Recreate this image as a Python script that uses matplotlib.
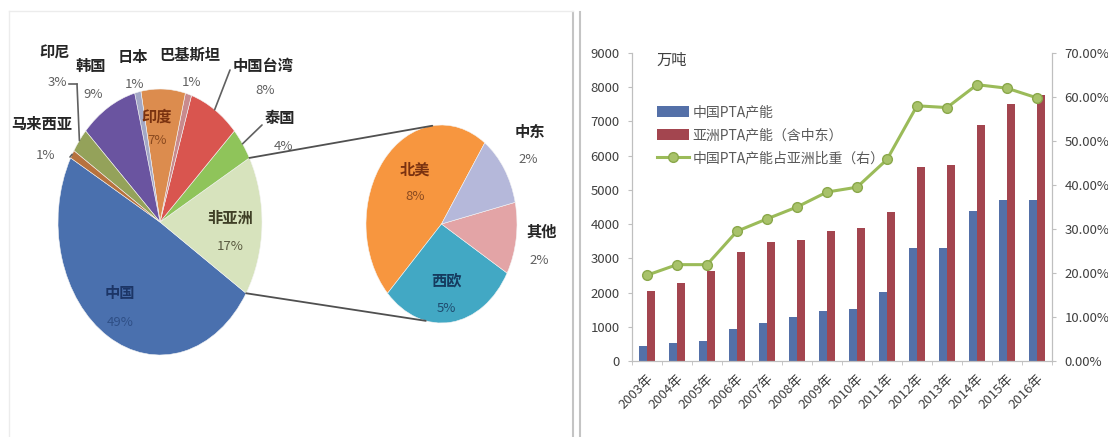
import numpy as np
import matplotlib.pyplot as plt
from matplotlib.patches import ConnectionPatch, Patch
from matplotlib.lines import Line2D
from matplotlib.ticker import FuncFormatter, MultipleLocator

plt.rcParams['font.family'] = ['Noto Sans CJK SC', 'DejaVu Sans']

W, H = 1108, 437

# 左图：PTA产能地区分布 (%)
main_names = ['中国', '非亚洲', '泰国', '中国台湾', '巴基斯坦', '印度', '日本', '韩国', '印尼', '马来西亚']
main_pct = [49, 17, 4, 8, 1, 7, 1, 9, 3, 1]
sub_names = ['北美', '西欧', '其他', '中东']
sub_pct = [8, 5, 2, 2]

# 右图：产能 (万吨) 与占比
years = ['2003年', '2004年', '2005年', '2006年', '2007年', '2008年', '2009年',
         '2010年', '2011年', '2012年', '2013年', '2014年', '2015年', '2016年']
china_cap = [430, 530, 590, 940, 1120, 1290, 1470, 1530, 2030, 3290, 3290, 4380, 4700, 4700]
asia_cap = [2060, 2290, 2620, 3180, 3470, 3530, 3800, 3880, 4350, 5680, 5740, 6910, 7500, 7760]
china_share = [0.195, 0.219, 0.219, 0.295, 0.323, 0.35, 0.384, 0.395, 0.458, 0.58, 0.576, 0.628, 0.62, 0.598]

main_colors = ['#4a70ae', '#d7e3bd', '#8fc45a', '#d9554f', '#c98a8d', '#dc8c4e',
               '#a3a8c6', '#6a54a0', '#94a25a', '#b7723e']
sub_colors = ['#f7963f', '#42a8c4', '#e3a4a6', '#b5b8da']


def box(x0, y0, x1, y1):
    return [x0 / W, 1 - y1 / H, (x1 - x0) / W, (y1 - y0) / H]


def fp(x, y):
    return (x / W, 1 - y / H)


def edge(w, frac=0.5):
    a = np.radians(w.theta1 + (w.theta2 - w.theta1) * frac)
    return (np.cos(a), np.sin(a))


fig = plt.figure(figsize=(W / 100, H / 100), dpi=100)

# ---- 主饼图
ax_main = fig.add_axes(box(58, 89, 262, 355))
wedges, _ = ax_main.pie(main_pct, colors=main_colors, startangle=151.2,
                        wedgeprops=dict(edgecolor='#f4f4f4', linewidth=0.4))
ax_main.set_aspect('auto')
ax_main.set_xlim(-1, 1)
ax_main.set_ylim(-1, 1)

# ---- 子饼图 (非亚洲)
ax_sub = fig.add_axes(box(366, 125, 517, 323))
sub_wedges, _ = ax_sub.pie(sub_pct, colors=sub_colors, startangle=55,
                           wedgeprops=dict(edgecolor='#f4f4f4', linewidth=0.4))
ax_sub.set_aspect('auto')
ax_sub.set_xlim(-1, 1)
ax_sub.set_ylim(-1, 1)

# 连接线
w = wedges[1]
for ang_a, ang_b in [(w.theta2, 97), (w.theta1, 258)]:
    ra, rb = np.radians(ang_a), np.radians(ang_b)
    con = ConnectionPatch(xyA=(np.cos(ra), np.sin(ra)), coordsA=ax_main.transData,
                          xyB=(np.cos(rb), np.sin(rb)), coordsB=ax_sub.transData,
                          color='#505050', lw=1.3)
    fig.add_artist(con)

# 标签位置 (像素)
lab_pos = {
    '中国': ((120, 293), (120, 322)), '非亚洲': ((230, 218), (230, 247)),
    '印度': ((157, 117), (157, 141)), '印尼': ((55, 53), (57, 82)),
    '韩国': ((91, 66), (93, 94)), '日本': ((133, 57), (135, 84)),
    '巴基斯坦': ((190, 55), (192, 82)), '中国台湾': ((263, 66), (265, 91)),
    '泰国': ((280, 118), (283, 147)), '马来西亚': ((42, 124), (46, 155)),
    '北美': ((415, 170), (415, 197)), '西欧': ((447, 280), (446, 308)),
    '中东': ((530, 132), (528, 160)), '其他': ((542, 232), (539, 260)),
}
inside_col = {'中国': ('#1c3566', '#2f4f86'), '非亚洲': ('#3f3f26', '#5a5a40'),
              '印度': ('#7a3210', '#8a4a20'), '北美': ('#7a3210', '#8a4a20'),
              '西欧': ('#153a5e', '#1f4a6e')}

for names, pcts in [(main_names, main_pct), (sub_names, sub_pct)]:
    for n, p in zip(names, pcts):
        (nx, ny), (px, py) = lab_pos[n]
        c1, c2 = inside_col.get(n, ('#262626', '#606060'))
        fig.text(*fp(nx, ny), n, ha='center', va='center', fontsize=11,
                 fontweight='bold', color=c1)
        fig.text(*fp(px, py), f'{p}%', ha='center', va='center', fontsize=9.5,
                 color=c2)

# 引线
leaders = [(wedges[3], (230, 70)), (wedges[2], (262, 125)), (wedges[9], (70, 157)),
           (wedges[8], (77, 84))]
for wd, (lx, ly) in leaders:
    fig.add_artist(ConnectionPatch(xyA=edge(wd), coordsA=ax_main.transData,
                                   xyB=(lx, H - ly), coordsB='figure pixels',
                                   color='#606060', lw=1.2))
fig.add_artist(Line2D([69 / W, 77 / W], [1 - 84 / H] * 2, transform=fig.transFigure,
                      color='#606060', lw=1.2))

# 分隔线与边框
for sx in (573, 580):
    fig.add_artist(Line2D([sx / W] * 2, [0, 1 - 12 / H], transform=fig.transFigure,
                          color='#c4c4c4', lw=1.5))
fig.add_artist(Line2D([9 / W, 573 / W], [1 - 11 / H] * 2, transform=fig.transFigure,
                      color='#ececec', lw=1))
fig.add_artist(Line2D([9 / W] * 2, [0, 1 - 11 / H], transform=fig.transFigure,
                      color='#ececec', lw=1))

# ---- 右图
ax = fig.add_axes(box(632, 53, 1052, 361))
x = np.arange(len(years))
b1 = ax.bar(x - 0.135, china_cap, 0.27, color='#5470a8', label='中国PTA产能')
b2 = ax.bar(x + 0.135, asia_cap, 0.27, color='#a3454f', label='亚洲PTA产能（含中东）')
ax.set_xlim(-0.5, len(years) - 0.5)
ax.set_ylim(0, 9000)
ax.yaxis.set_major_locator(MultipleLocator(1000))
ax.set_xticks(x)
ax.set_xticklabels(years, rotation=45, ha='right', va='top', rotation_mode='anchor',
                   fontsize=9.5, color='#404040')
ax.set_xticks(np.arange(len(years) + 1) - 0.5, minor=True)
ax.tick_params(axis='x', which='major', length=0, pad=8)
ax.tick_params(axis='x', which='minor', length=3, color='#bfbfbf')
ax.tick_params(axis='y', length=3, color='#bfbfbf', labelsize=9.5, labelcolor='#404040', pad=6)
ax.spines['top'].set_visible(False)
for s in ('left', 'bottom', 'right'):
    ax.spines[s].set_color('#bfbfbf')

ax2 = ax.twinx()
ln, = ax2.plot(x, china_share, color='#9bbb59', lw=2.2, marker='o', ms=7,
               mfc='#a8c26a', mec='#8aa84a', label='中国PTA产能占亚洲比重（右）')
ax2.set_ylim(0, 0.7)
ax2.yaxis.set_major_locator(MultipleLocator(0.1))
ax2.yaxis.set_major_formatter(FuncFormatter(lambda v, p: f'{v * 100:.2f}%'))
ax2.tick_params(axis='y', length=3, color='#bfbfbf', labelsize=9.5, labelcolor='#404040', pad=6)
ax2.spines['top'].set_visible(False)
for s in ('left', 'bottom', 'right'):
    ax2.spines[s].set_color('#bfbfbf')

leg = ax2.legend(handles=[b1, b2, ln], loc='upper left', bbox_to_anchor=(0.06, 0.83),
                 frameon=False, fontsize=10, borderpad=0, borderaxespad=0,
                 handlelength=2.3, handleheight=0.8, handletextpad=0.25, labelspacing=0.65)
for t in leg.get_texts():
    t.set_color('#595959')

fig.text(*fp(672, 60), '万吨', ha='center', va='center', fontsize=11, color='#404040')

fig.savefig('out.png', dpi=100)
